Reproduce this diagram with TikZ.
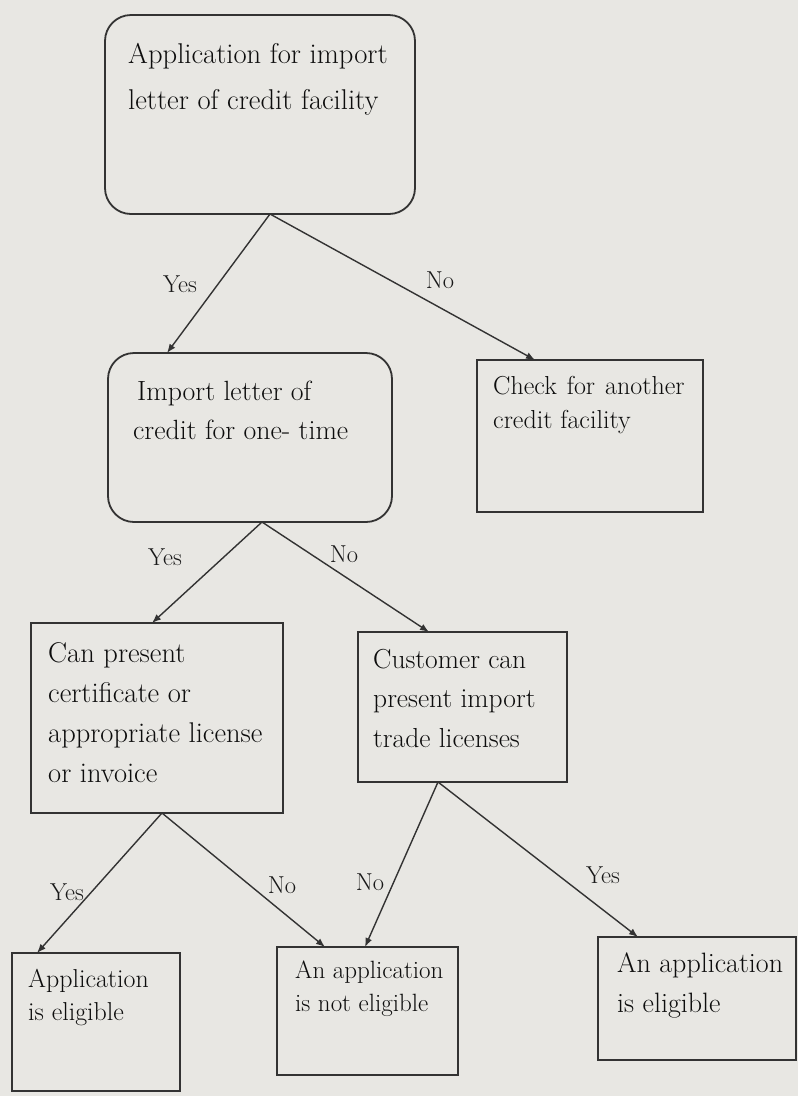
\documentclass[tikz,border=0pt]{standalone}
\usetikzlibrary{arrows.meta}
\definecolor{paper}{HTML}{E8E7E3}
\definecolor{ink}{HTML}{333333}
\begin{document}
\begin{tikzpicture}[x=1pt,y=-1pt,
  box/.style={draw=ink, line width=1.8pt, rectangle, anchor=north west, inner sep=0pt, outer sep=0pt},
  rbox/.style={box, rounded corners=26pt},
  txt/.style={anchor=north west, inner sep=0pt, align=left, text=black!95},
  lbl/.style={inner sep=0pt, font=\fontsize{24.5}{28}\selectfont, text=black!90},
  link/.style={draw=ink, line width=1.4pt, -{Latex[length=9pt,width=7pt]}}]
% paper and page frame
\fill[paper] (0,0) rectangle (798,1096);
\useasboundingbox (0,0) rectangle (798,1096);

% boxes
\node[rbox, minimum width=310pt, minimum height=199pt] (app)   at (105,15)  {};
\node[rbox, minimum width=284pt, minimum height=169pt] (once)  at (108,353) {};
\node[box,  minimum width=226pt, minimum height=152pt] (check) at (477,360) {};
\node[box,  minimum width=252pt, minimum height=190pt] (canp)  at (31,623)  {};
\node[box,  minimum width=209pt, minimum height=150pt] (cust)  at (358,632) {};
\node[box,  minimum width=168pt, minimum height=138pt] (eligL) at (12,953)  {};
\node[box,  minimum width=181pt, minimum height=128pt] (nelig) at (277,947) {};
\node[box,  minimum width=198pt, minimum height=123pt] (eligR) at (598,937) {};

% box texts
\node[txt, font=\fontsize{28.6}{46}\selectfont] (appT) at (128,43)
  {Application for import\\letter of credit facility};
\node[txt, font=\fontsize{27.8}{39}\selectfont] (onceT) at (133,381)
  {\hspace{4pt}Import letter of\\credit for one- time};
\node[txt, font=\fontsize{26}{34}\selectfont] (checkT) at (493,376)
  {Check\hspace{10pt}for\hspace{10pt}another\\credit facility};
\node[txt, font=\fontsize{28.5}{40}\selectfont] (canpT) at (48,642)
  {Can present\\certificate or\\appropriate license\\or invoice};
\node[txt, font=\fontsize{27.5}{39.5}\selectfont] (custT) at (373,649)
  {Customer can\\present import\\trade licenses};
\node[txt, font=\fontsize{25.9}{33}\selectfont] (eligLT) at (28,969)
  {Application\\is eligible};
\node[txt, font=\fontsize{25}{33}\selectfont] (neligT) at (295,961)
  {An application\\is not eligible};
\node[txt, font=\fontsize{28}{40}\selectfont] (eligRT) at (617,952)
  {An application\\is eligible};

% connectors
\draw[link] ([xshift=10pt]app.south)   -- ([xshift=59pt]once.north west);
\draw[link] ([xshift=10pt]app.south)   -- ([xshift=58pt]check.north west);
\draw[link] ([xshift=12pt]once.south)  -- ([xshift=121pt]canp.north west);
\draw[link] ([xshift=12pt]once.south)  -- ([xshift=71pt]cust.north west);
\draw[link] ([xshift=5pt]canp.south)   -- ([xshift=25pt]eligL.north west);
\draw[link] ([xshift=5pt]canp.south)   -- ([xshift=48pt]nelig.north west);
\draw[link] ([xshift=-24.5pt]cust.south) -- ([xshift=88pt]nelig.north west);
\draw[link] ([xshift=-24.5pt]cust.south) -- ([xshift=40pt]eligR.north west);

% branch labels
\node[lbl] (y1) at (180,284) {Yes};
\node[lbl] (n1) at (440,280) {No};
\node[lbl] (y2) at (165,557) {Yes};
\node[lbl] (n2) at (344,554) {No};
\node[lbl] (y3) at (67,892)  {Yes};
\node[lbl] (n3) at (282,885) {No};
\node[lbl] (n4) at (370,882) {No};
\node[lbl] (y4) at (603,875) {Yes};
\end{tikzpicture}
\end{document}
